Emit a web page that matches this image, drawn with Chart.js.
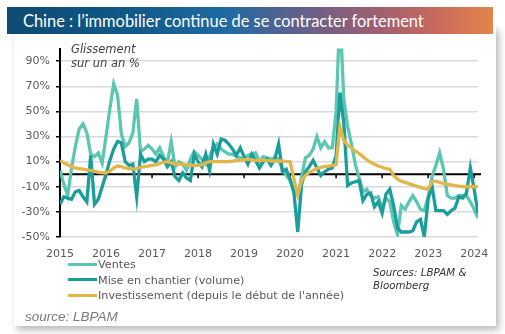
<!DOCTYPE html>
<html lang="fr">
<head>
<meta charset="utf-8">
<script src="https://cdn.jsdelivr.net/npm/chart.js@4.4.1/dist/chart.umd.min.js"></script>
<style>
  html, body { margin: 0; padding: 0; background: #fff; }
  body { width: 505px; height: 334px; position: relative; overflow: hidden; }
  #card {
    position: absolute; left: 14px; top: 26px; width: 482px; height: 300px;
    background: #fff; box-shadow: 3px 4px 7px rgba(0, 0, 0, 0.28);
  }
  #title {
    position: absolute; left: 7px; top: 7px; width: 486px; height: 27px;
    background: linear-gradient(90deg, #0f4b73 0%, #0f5888 25%, #1f6aa3 45%, #6a5f8a 62%, #9a5f72 75%, #c8685d 88%, #e3844a 100%);
    color: #fff; font-family: Lato, "Open Sans", sans-serif; font-size: 16.4px;
    line-height: 27px; padding-left: 16px; box-sizing: border-box; white-space: nowrap;
  }
  #chart { position: absolute; left: 0; top: 36px; }
  .note { position: absolute; font-family: "DejaVu Sans", sans-serif; font-style: italic; white-space: nowrap; }
  #unit { left: 71px; top: 42px; font-size: 11.5px; color: #404040; line-height: 14px; }
  #sources { left: 373px; top: 266px; font-size: 10.3px; color: #333; line-height: 13px; }
  #source { left: 25px; top: 309px; font-family: "Liberation Sans", Arial, sans-serif; font-size: 13.5px; color: #7a7a7a; }
  #legend { position: absolute; left: 68px; top: 257px; font-family: "DejaVu Sans", sans-serif; font-size: 11.2px; color: #595959; }
  #legend div { height: 15.5px; line-height: 15.5px; white-space: nowrap; }
  #legend span { display: inline-block; width: 29px; height: 3px; vertical-align: middle; margin-right: 1px; position: relative; top: -1px; }
</style>
</head>
<body>
<div id="card"></div>
<div id="title">Chine : l’immobilier continue de se contracter fortement</div>
<canvas id="chart" width="500" height="230"></canvas>
<div id="unit" class="note">Glissement<br>sur un an %</div>
<div id="legend"></div>
<div id="sources" class="note">Sources: LBPAM &amp;<br>Bloomberg</div>
<div id="source" class="note">source: LBPAM</div>
<script>
// Monthly series, January 2015 to February 2024 (% y/y)
const startYear = 2015;
const yearTicks = [2015, 2016, 2017, 2018, 2019, 2020, 2021, 2022, 2023, 2024];
const percentTicks = [-50, -30, -10, 10, 30, 50, 70, 90];

const seriesNames = ["Ventes", "Mise en chantier (volume)", "Investissement (depuis le début de l'année)"];
const seriesColors = ["#5cc7b1", "#1a9d9b", "#e2b74a"];

const ventes = [
  3, -8, -17, 5, 22, 36, 40, 33, 16, 14, 17, 9,
  30, 52, 72, 63, 32, 22, 25, 33, 60, 18, 20, 23,
  20, 16, 21, 14, 9, 26, 6, 10, 8, 3, 12, 18,
  15, 12, 8, 14, 21, 24, 20, 18, 16, 16, 14, 13,
  12, 15, 16, 17, 10, 14, 13, 12, 13, 12, 4, -1,
  -5, -13, -17, -2, 13, 15, 20, 30, 21, 26, 21, 21,
  50, 130, 60, 38, 24, 8, -3, -14, -12, -17, -19, -18,
  -27, -19, -22, -38, -48, -25, -28, -22, -17, -22, -28, -29,
  -18, -2, 7, 17, 4, -17, -19, -19, -17, -17, -17, -22,
  -28, -35
];

const miseEnChantier = [
  -24, -18, -19, -20, -14, -13, -18, -22, 15, -24, -20, -10,
  0, 11, 20, 26, 25, 10, 7, 8, -18, 16, 10, 12,
  12, 10, 15, 12, 6, 10, -2, -5, 1, -3, -5, 16,
  10, 6, 16, 3, 24, 16, 28, 27, 24, 20, 15, 21,
  14, 8, 16, 11, 5, 10, 12, 7, 12, 24, 2, 4,
  -4, -15, -46, -8, 2, 6, 11, 5, -1, 2, 4, 5,
  15, 65, 41, -9, -7, -6, -5, -21, -16, -15, -26, -22,
  -31, -16, -12, -25, -43, -46, -46, -46, -45, -38, -36, -50,
  -20, -9, -29, -29, -29, -32, -29, -27, -18, -19, -15, 5,
  -12, -31
];

const investissement = [
  11, 9, 7.5, 6, 5, 4.5, 4, 3.5, 3, 2.5, 1.5, 1,
  1, 2.5, 5, 6.5, 6, 5, 4.5, 4, 4.5, 5.5, 6, 6.5,
  7, 7.5, 8.5, 9.5, 10, 9, 8, 8, 8, 7.5, 7, 7,
  7, 7.5, 9, 10, 10, 10, 10, 10, 10, 10.5, 11, 11,
  11.5, 12, 11.5, 11, 11, 11, 11, 10.5, 10.5, 10.5, 10.5, 10,
  10, -4, -16.5, -5, -1, 1.5, 3, 4.5, 5.5, 6, 6.5, 7,
  7.5, 38, 27, 23, 21, 18.5, 16.5, 14, 11.5, 9.5, 8, 6.5,
  5.5, 4.5, 4, -1, -4, -5.5, -6.5, -7.5, -8.5, -9.5, -10.5, -11.5,
  -12, -6, -5.5, -6.5, -7.5, -8, -8.5, -9, -9.5, -9.8, -10, -10,
  -10, -9.8
];

const toPoints = (values) => values.map((v, i) => ({ x: startYear + i / 12, y: v }));
const lastX = startYear + (ventes.length - 1) / 12;

// legend, one entry per line
const legend = document.getElementById("legend");
legend.innerHTML = seriesNames
  .map((name, i) => `<div><span style="background:${seriesColors[i]}"></span>${name}</div>`)
  .join("");

// black zero line with small year marks hanging below it
const zeroLine = {
  id: "zeroLine",
  beforeDatasetsDraw(chart) {
    const { ctx, chartArea, scales } = chart;
    const y0 = scales.y.getPixelForValue(0);
    ctx.save();
    ctx.strokeStyle = "#000";
    ctx.lineWidth = 2;
    ctx.beginPath();
    ctx.moveTo(chartArea.left, y0);
    ctx.lineTo(chartArea.right + 3, y0);
    ctx.stroke();
    ctx.lineWidth = 1.5;
    ctx.beginPath();
    yearTicks.slice(1).forEach((yr) => {
      const px = scales.x.getPixelForValue(yr);
      ctx.moveTo(px, y0);
      ctx.lineTo(px, y0 + 4);
    });
    ctx.stroke();
    ctx.restore();
  },
};

const series = [ventes, miseEnChantier, investissement];

new Chart(document.getElementById("chart"), {
  type: "line",
  data: {
    datasets: series.map((values, i) => ({
      label: seriesNames[i],
      data: toPoints(values),
      borderColor: seriesColors[i],
      borderWidth: 3.3,
      pointRadius: 0,
      tension: 0,
      order: 3 - i,
    })),
  },
  options: {
    responsive: false,
    animation: false,
    devicePixelRatio: 1,
    layout: { padding: { left: 10, right: 22, top: 4, bottom: 0 } },
    scales: {
      x: {
        type: "linear",
        min: startYear,
        max: lastX,
        afterBuildTicks: (scale) => {
          scale.ticks = yearTicks.map((v) => ({ value: v }));
        },
        afterFit: (scale) => {
          scale.height = 29;
        },
        grid: { display: false, drawTicks: false },
        border: { display: false },
        ticks: {
          padding: 11,
          color: "#595959",
          font: { family: "DejaVu Sans", size: 11 },
          maxRotation: 0,
          callback: (v) => String(v),
        },
      },
      y: {
        min: -50,
        max: 100,
        afterBuildTicks: (scale) => {
          scale.ticks = percentTicks.map((v) => ({ value: v }));
        },
        afterFit: (scale) => {
          scale.width = 50;
        },
        grid: { color: "#d9d9d9", lineWidth: 1.5, tickColor: "#000", tickLength: 4 },
        border: { color: "#000", width: 2 },
        ticks: {
          padding: 6,
          color: "#595959",
          font: { family: "DejaVu Sans", size: 11 },
          callback: (v) => v + "%",
        },
      },
    },
    plugins: {
      legend: { display: false },
      tooltip: { enabled: false },
    },
  },
  plugins: [zeroLine],
});
</script>
</body>
</html>
